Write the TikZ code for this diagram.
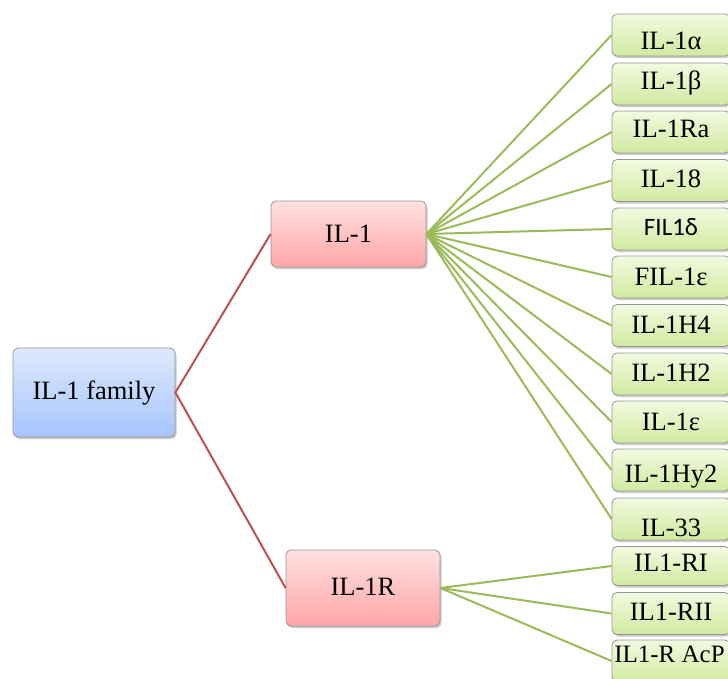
\documentclass[tikz,border=0pt]{standalone}
\usepackage{fontspec}
\setmainfont{Liberation Serif}
\newfontfamily\calfont{Carlito}
\usetikzlibrary{shadows}

\definecolor{famtop}{RGB}{222,233,253}
\definecolor{fambot}{RGB}{166,197,252}
\definecolor{redtop}{RGB}{255,224,224}
\definecolor{redbot}{RGB}{255,166,166}
\definecolor{grntop}{RGB}{242,250,224}
\definecolor{grnbot}{RGB}{208,234,160}
\definecolor{redline}{RGB}{192,80,77}
\definecolor{grnline}{RGB}{155,187,89}
\definecolor{boxedge}{RGB}{150,150,150}

% shift the glyphs of a label up (positive) or down (negative)
\newcommand{\lift}[2]{\raisebox{#1}{#2}}

\tikzset{
  box/.style={draw=boxedge, line width=0.8pt, rounded corners=5pt,
    inner sep=0pt, align=center,
    font=\fontsize{26.5}{30}\selectfont,
    text height=18.5pt, text depth=1pt,
    drop shadow={shadow xshift=1.5pt, shadow yshift=-2pt, opacity=0.35, fill=black!60}},
  rootbox/.style={box, top color=famtop, bottom color=fambot},
  midbox/.style={box, top color=redtop, bottom color=redbot},
  leafbox/.style={box, top color=grntop, bottom color=grnbot,
    minimum width=118pt, minimum height=42pt},
  redlink/.style={draw=redline, line width=2pt},
  grnlink/.style={draw=grnline, line width=2pt},
}

\begin{document}
\begin{tikzpicture}[x=1pt, y=1pt]
\clip (0,0) rectangle (728,-678);

% family root and the two groups
\node[rootbox, minimum width=162pt, minimum height=89pt] (fam) at (94,-392.5) {\lift{2pt}{IL-1 family}};
\node[midbox, minimum width=155pt, minimum height=66pt] (il1) at (348.5,-234) {IL-1};
\node[midbox, minimum width=154pt, minimum height=76pt] (il1r) at (363,-588) {\lift{1pt}{IL-1R}};

% IL-1 members
\node[leafbox] (a)   at (671,-35)    {\lift{-6pt}{IL-1α}};
\node[leafbox] (b)   at (671,-84)    {\lift{3pt}{IL-1β}};
\node[leafbox] (ra)  at (671,-132)   {\lift{3pt}{IL-1Ra}};
\node[leafbox] (i18) at (671,-180.5) {\lift{1.5pt}{IL-18}};
\node[leafbox] (fd)  at (671,-229)   {\calfont\fontsize{25}{28}\selectfont\lift{2pt}{FIL1δ}};
\node[leafbox] (fe)  at (671,-277)   {FIL-1ε};
\node[leafbox] (h4)  at (671,-325.5) {\lift{1pt}{IL-1H4}};
\node[leafbox] (h2)  at (671,-374)   {\lift{1pt}{IL-1H2}};
\node[leafbox] (e)   at (671,-422)   {IL-1ε};
\node[leafbox] (hy2) at (671,-470)   {\lift{-4pt}{IL-1Hy2}};
\node[leafbox] (i33) at (671,-519)   {\lift{-8.5pt}{IL-33}};

% receptor members
\node[leafbox, minimum height=39pt] (ri)  at (671,-566)   {\lift{3pt}{IL1-RI}};
\node[leafbox] (rii) at (671,-613.5) {\lift{2pt}{IL1-RII}};
\node[leafbox] (acp) at (671,-661)   {\fontsize{25}{28}\selectfont\lift{7pt}{\hspace*{-3pt}IL1-R AcP}};

% connectors
\draw[redlink] (il1.west) -- (fam.east) -- (il1r.west);
\foreach \t in {a,b,ra,i18,fd,fe,h4,h2,e,hy2,i33}
  \draw[grnlink] (il1.east) -- (\t.west);
\foreach \t in {ri,rii,acp}
  \draw[grnlink] (il1r.east) -- (\t.west);
\end{tikzpicture}
\end{document}
